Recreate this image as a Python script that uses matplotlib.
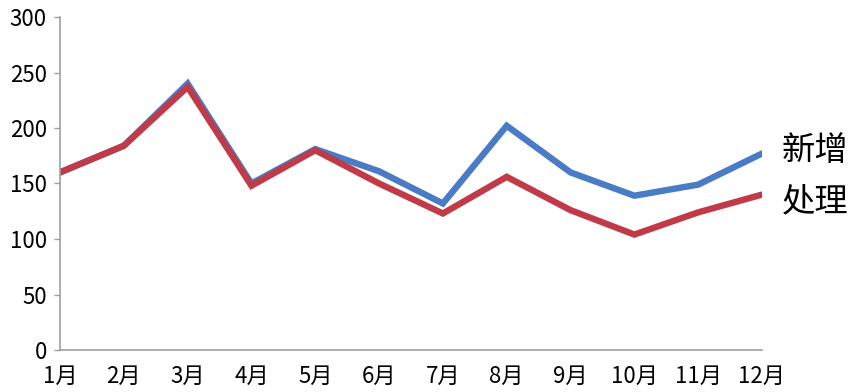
import matplotlib
matplotlib.use("Agg")
import matplotlib.pyplot as plt

plt.rcParams['font.family'] = ['Noto Sans CJK SC', 'DejaVu Sans']

months = ['1月', '2月', '3月', '4月', '5月', '6月', '7月', '8月', '9月', '10月', '11月', '12月']
new_vals = [160, 184, 240, 150, 181, 161, 132, 202, 160, 139, 149, 177]
done_vals = [160, 184, 237, 148, 180, 150, 123, 156, 126, 104, 124, 140]
series_names = ['新增', '处理']
yticks = [0, 50, 100, 150, 200, 250, 300]

blue = '#4a7bc7'
red = '#c13a47'
gray = '#a0a0a0'

fig = plt.figure(figsize=(8.59, 3.92), dpi=100)
ax = fig.add_axes([60/859, 42/392, (762-60)/859, (350-17)/392])

x = list(range(len(months)))
ax.plot(x, new_vals, color=blue, lw=4.6, solid_capstyle='round', solid_joinstyle='miter', zorder=3)
ax.plot(x, done_vals, color=red, lw=4.6, solid_capstyle='round', solid_joinstyle='miter', zorder=4)

ax.set_xlim(0, 11)
ax.set_ylim(0, 300)
ax.set_yticks(yticks)
ax.set_xticks(x)
ax.set_xticklabels(months)

for s in ['top', 'right']:
    ax.spines[s].set_visible(False)
for s in ['left', 'bottom']:
    ax.spines[s].set_color(gray)
    ax.spines[s].set_linewidth(1.2)
ax.spines['left'].set_zorder(5)

ax.tick_params(axis='y', length=4.5, width=1.0, color=gray, pad=5, labelsize=16, labelcolor='black')
ax.tick_params(axis='x', length=0, pad=11, labelsize=16, labelcolor='black')
for lbl in ax.get_xticklabels() + ax.get_yticklabels():
    lbl.set_clip_on(False)

ax.annotate(series_names[0], xy=(11, new_vals[-1]), xytext=(14, 2), textcoords='offset points',
            fontsize=24, va='center', ha='left', annotation_clip=False)
ax.annotate(series_names[1], xy=(11, done_vals[-1]), xytext=(14, -5), textcoords='offset points',
            fontsize=24, va='center', ha='left', annotation_clip=False)

fig.savefig('out.png', dpi=100)
